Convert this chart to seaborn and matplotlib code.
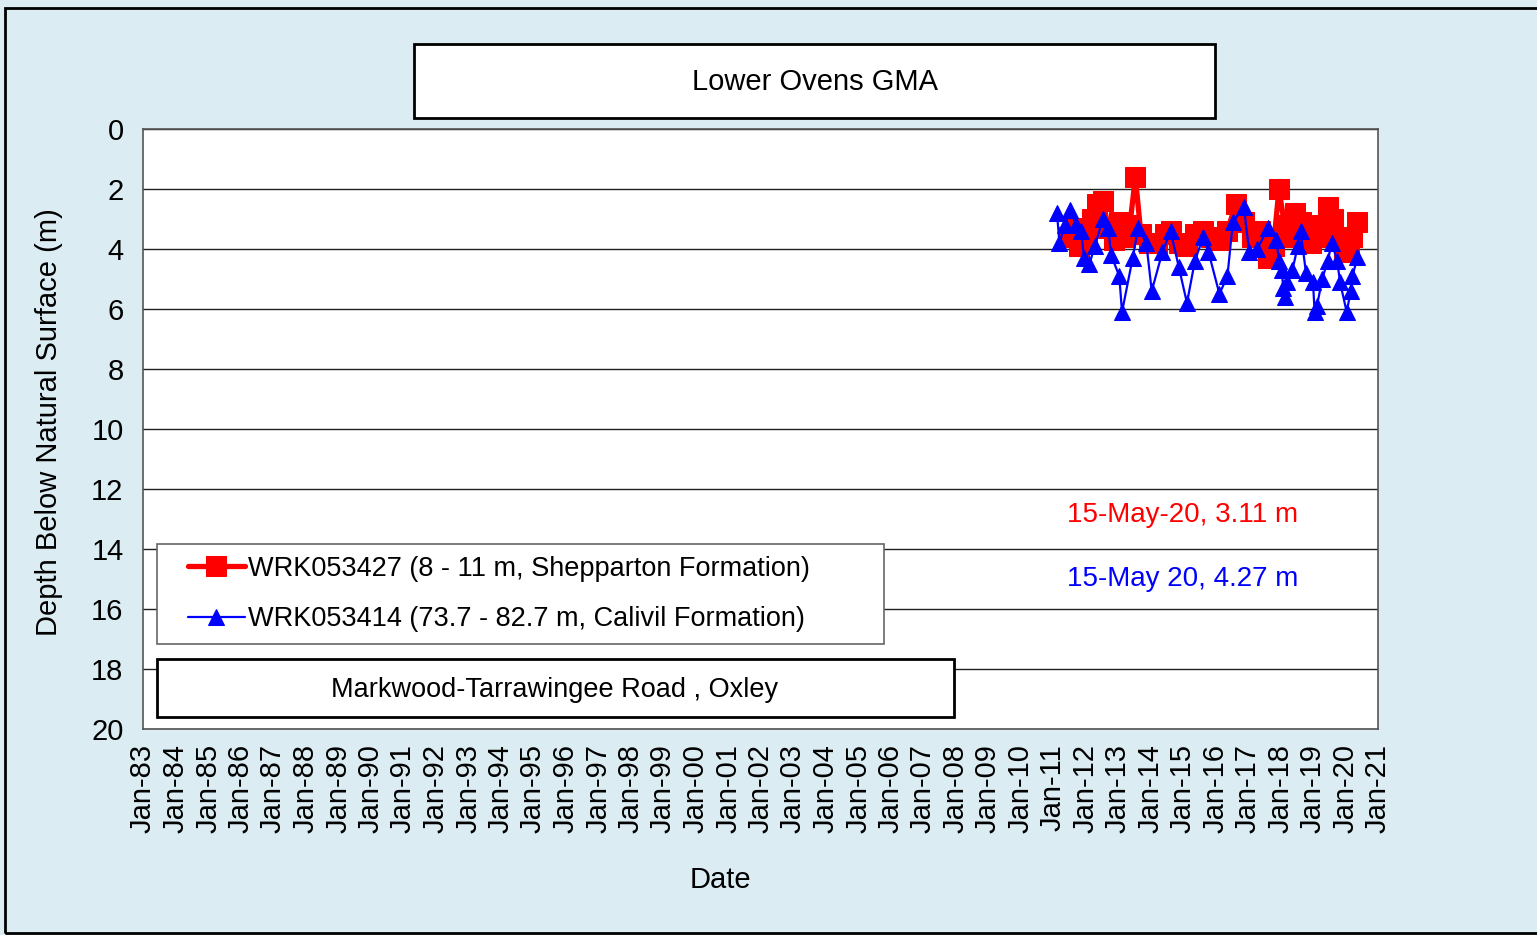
import numpy as np
import pandas as pd
import seaborn as sns
import matplotlib.pyplot as plt
import matplotlib.dates as mdates
from matplotlib.patches import Rectangle

# Hydrograph - Lower Ovens GMA
###########################

# WRK053427 (shallow bore, red)
red_dates = ["2011-06-15", "2011-08-15", "2011-10-15", "2012-01-15", "2012-03-15", "2012-05-15",
             "2012-07-15", "2012-09-15", "2012-11-15", "2013-01-15", "2013-03-15", "2013-05-15",
             "2013-07-15", "2013-09-15", "2013-12-15", "2014-03-15", "2014-06-15", "2014-08-15",
             "2014-11-15", "2015-02-15", "2015-05-15", "2015-08-15", "2015-11-15", "2016-02-15",
             "2016-05-15", "2016-08-15", "2016-11-15", "2017-02-15", "2017-05-15", "2017-08-15",
             "2017-10-15", "2017-12-15", "2018-02-15", "2018-04-15", "2018-06-15", "2018-08-15",
             "2018-10-15", "2018-12-15", "2019-02-15", "2019-04-15", "2019-06-15", "2019-08-15",
             "2019-10-15", "2019-12-15", "2020-02-15", "2020-03-15", "2020-05-15"]
red_depth = [3.6, 3.3, 3.9, 3.7, 3.0, 2.5,
             2.4, 3.3, 3.7, 3.1, 3.6, 3.2,
             1.6, 3.5, 3.8, 3.8, 3.5, 3.4,
             3.8, 3.9, 3.5, 3.4, 3.6, 3.7,
             3.4, 2.5, 3.1, 3.6, 3.4, 4.3,
             3.9, 2.0, 3.2, 3.6, 2.8, 3.1,
             3.4, 3.8, 3.6, 3.2, 2.6, 3.0,
             3.6, 4.1, 3.9, 3.6, 3.11]

# WRK053414 (deep bore, blue)
blue_dates = ["2011-02-15", "2011-03-15", "2011-05-15", "2011-07-15", "2011-09-15", "2011-11-15",
              "2011-12-15", "2012-02-15", "2012-04-15", "2012-07-15", "2012-09-15", "2012-10-15",
              "2013-01-15", "2013-02-15", "2013-06-15", "2013-08-15", "2013-11-15", "2014-01-15",
              "2014-05-15", "2014-08-15", "2014-11-15", "2015-02-15", "2015-05-15", "2015-08-15",
              "2015-10-15", "2016-02-15", "2016-05-15", "2016-07-15", "2016-11-15", "2017-01-15",
              "2017-04-15", "2017-08-15", "2017-11-15", "2017-12-15", "2018-01-15", "2018-02-01",
              "2018-02-20", "2018-03-15", "2018-05-15", "2018-07-15", "2018-08-15", "2018-10-15",
              "2019-01-01", "2019-01-20", "2019-02-15", "2019-04-15", "2019-06-15", "2019-08-01",
              "2019-10-01", "2019-11-01", "2020-01-15", "2020-03-01", "2020-03-20", "2020-05-15"]
blue_depth = [2.8, 3.8, 3.2, 2.7, 3.2, 3.4,
              4.3, 4.5, 3.9, 3.0, 3.3, 4.2,
              4.9, 6.1, 4.3, 3.3, 3.8, 5.4,
              4.1, 3.4, 4.6, 5.8, 4.4, 3.6,
              4.1, 5.5, 4.9, 3.1, 2.6, 4.1,
              4.0, 3.3, 3.7, 4.4, 4.7, 5.3,
              5.6, 5.1, 4.7, 3.9, 3.4, 4.8,
              5.1, 6.1, 5.9, 5.0, 4.4, 3.8,
              4.4, 5.1, 6.1, 5.4, 4.9, 4.27]

red_label = "WRK053427 (8 - 11 m, Shepparton Formation)"
blue_label = "WRK053414 (73.7 - 82.7 m, Calivil Formation)"
title = "Lower Ovens GMA"
site = "Markwood-Tarrawingee Road , Oxley"
red_note = "15-May-20, 3.11 m"
blue_note = "15-May 20, 4.27 m"

red_df = pd.DataFrame({"date": pd.to_datetime(red_dates), "depth": red_depth})
blue_df = pd.DataFrame({"date": pd.to_datetime(blue_dates), "depth": blue_depth})

sns.set_style("white")
plt.rcParams['font.family'] = ['Liberation Sans', 'DejaVu Sans']
plt.rcParams['text.color'] = 'black'
plt.rcParams['xtick.labelcolor'] = 'black'
plt.rcParams['ytick.labelcolor'] = 'black'
plt.rcParams['axes.labelcolor'] = 'black'

W, H = 1537, 935
bg = "#DBEDF3"
fig = plt.figure(figsize=(W / 100, H / 100), dpi=100, facecolor=bg)
ax = fig.add_axes([143 / W, 1 - 729 / H, (1378 - 143) / W, (729 - 129) / H])
ax.set_facecolor("white")

# outer frame of the figure
fig.patches.append(Rectangle((5 / W, 2 / H), 1.2, 1 - 10 / H, transform=fig.transFigure,
                             fill=False, edgecolor="black", linewidth=2))

sns.lineplot(data=red_df, x="date", y="depth", ax=ax, color="#FF0000", marker="s",
             markersize=14, markeredgecolor="#FF0000", linewidth=3.8, sort=False,
             label=red_label, zorder=3)
sns.lineplot(data=blue_df, x="date", y="depth", ax=ax, color="#0000FF", marker="^",
             markersize=12, markeredgecolor="#0000FF", linewidth=1.6, sort=False,
             label=blue_label, zorder=4)

ax.set_xlim(pd.Timestamp("1983-01-01"), pd.Timestamp("2021-01-01"))
ax.set_ylim(20, 0)
ax.set_yticks(np.arange(0, 21, 2))
ax.xaxis.set_major_locator(mdates.YearLocator(1, month=1, day=1))
ax.xaxis.set_major_formatter(mdates.DateFormatter("%b-%y"))
ax.tick_params(axis="x", rotation=90, labelsize=21, direction="out", length=8, width=1,
               color="#404040", pad=3)
ax.tick_params(axis="y", labelsize=21, direction="out", length=8, width=1,
               color="#404040", pad=6)
ax.grid(axis="y", color="#202020", linewidth=1)
ax.grid(axis="x", visible=False)
for s in ax.spines.values():
    s.set_color("#555555")
    s.set_linewidth(1.2)

ax.set_xlabel("Date", fontsize=21)
ax.set_ylabel("Depth Below Natural Surface (m)", fontsize=21)
ax.xaxis.set_label_coords((720 - 143) / (1378 - 143), -(866 - 729) / (729 - 129))
ax.yaxis.set_label_coords(-(143 - 63) / (1378 - 143), (729 - 422) / (729 - 129))

# legend frame drawn separately so the entries can be placed freely
ax.add_patch(Rectangle((157 / W, 1 - 644 / H), (884 - 157) / W, (644 - 544) / H,
                       transform=fig.transFigure, facecolor="white", edgecolor="#666666",
                       linewidth=1.2, zorder=4.5, clip_on=False))
leg = ax.legend(loc="center left", bbox_to_anchor=(188 / W, 1 - 594 / H),
                bbox_transform=fig.transFigure, fontsize=19.5, frameon=False,
                handlelength=2.1, handletextpad=0.1, labelspacing=0.9, borderpad=0,
                borderaxespad=0)
leg.set_zorder(5)

# title box
fig.patches.append(Rectangle((414 / W, 1 - 118 / H), (1215 - 414) / W, (118 - 44) / H,
                             transform=fig.transFigure, facecolor="white",
                             edgecolor="black", linewidth=2))
fig.text(815 / W, 1 - 82 / H, title, ha="center", va="center", fontsize=21)

# site box
ax.add_patch(Rectangle((157 / W, 1 - 717 / H), (954 - 157) / W, (717 - 659) / H,
                       transform=fig.transFigure, facecolor="white",
                       edgecolor="black", linewidth=2, zorder=6, clip_on=False))
fig.text(555 / W, 1 - 690 / H, site, ha="center", va="center", fontsize=19.5, zorder=7)

# latest readings
fig.text(1183 / W, 1 - 515 / H, red_note, ha="center", va="center", fontsize=20,
         color="#FF0000")
fig.text(1183 / W, 1 - 579 / H, blue_note, ha="center", va="center", fontsize=20,
         color="#0000FF")

fig.savefig("out.png", dpi=100, facecolor=bg)
